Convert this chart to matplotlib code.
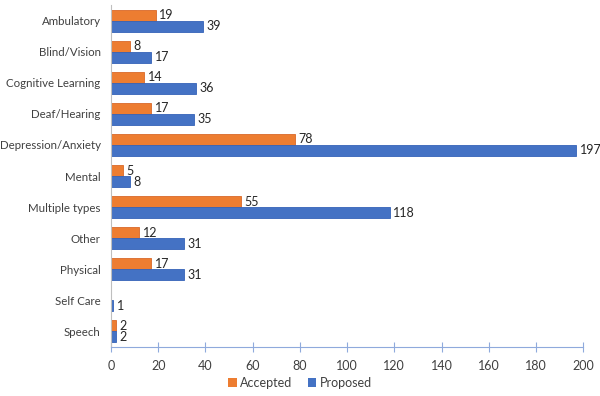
import matplotlib
matplotlib.use("Agg")
import matplotlib.pyplot as plt
import numpy as np
from matplotlib.patches import Patch

categories = ["Ambulatory", "Blind/Vision", "Cognitive Learning", "Deaf/Hearing",
              "Depression/Anxiety", "Mental", "Multiple types", "Other", "Physical",
              "Self Care", "Speech"]
accepted = [19, 8, 14, 17, 78, 5, 55, 12, 17, 0, 2]
proposed = [39, 17, 36, 35, 197, 8, 118, 31, 31, 1, 2]
xticks = [0, 20, 40, 60, 80, 100, 120, 140, 160, 180, 200]

plt.rcParams['font.family'] = ['Lato', 'DejaVu Sans']

orange = "#ED7D31"
blue = "#4472C4"

fig = plt.figure(figsize=(6, 3.96), dpi=100)
ax = fig.add_axes([0.185, 0.124, 0.787, 0.863])

y = np.arange(len(categories))
h = 0.355
for i, (a, p) in enumerate(zip(accepted, proposed)):
    if a > 0:
        ax.barh(y[i] - h / 2, a, height=h, color=orange, edgecolor="#d9692a", linewidth=0.6)
        ax.text(a + 1.5, y[i] - h / 2, str(a), va="center", ha="left", fontsize=9, color="#262626")
    ax.barh(y[i] + h / 2, p, height=h, color=blue, edgecolor="#3563b8", linewidth=0.6)
    ax.text(p + 1.5, y[i] + h / 2, str(p), va="center", ha="left", fontsize=9, color="#262626")

ax.set_ylim(len(categories) - 0.5, -0.5)
ax.set_xlim(0, 200)
ax.set_xticks(xticks)
ax.set_yticks(y)
ax.set_yticklabels(categories, fontsize=8.3, color="#404040")
ax.tick_params(axis="y", length=0, pad=7.5)
ax.tick_params(axis="x", direction="inout", length=7, width=0.8, color="#8faadc",
               labelsize=9, labelcolor="#404040", pad=6)
for s in ["top", "right"]:
    ax.spines[s].set_visible(False)
ax.spines["bottom"].set_color("#8faadc")
ax.spines["bottom"].set_linewidth(0.8)
ax.spines["left"].set_color("#bfbfbf")
ax.spines["left"].set_linewidth(0.8)

handles = [Patch(facecolor=orange), Patch(facecolor=blue)]
fig.legend(handles, ["Accepted", "Proposed"], loc="center", bbox_to_anchor=(0.5, 0.033),
           ncol=2, frameon=False, fontsize=9, handlelength=0.7, handleheight=0.7,
           handletextpad=0.3, columnspacing=1.2, labelcolor="#404040")

fig.savefig("out.png", dpi=100)
